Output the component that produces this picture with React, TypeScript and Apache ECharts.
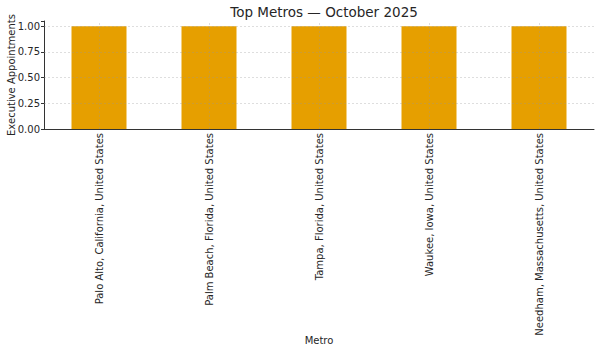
import React, { useEffect, useRef } from "react";
import * as echarts from "echarts";

const metros = [
  "Palo Alto, California, United States",
  "Palm Beach, Florida, United States",
  "Tampa, Florida, United States",
  "Waukee, Iowa, United States",
  "Needham, Massachusetts, United States",
];
const appointments = [1, 1, 1, 1, 1];
const yTicks = [0.25, 0.5, 0.75, 1.0];

const FONT = "DejaVu Sans";

export default function App() {
  const ref = useRef<HTMLDivElement>(null);
  useEffect(() => {
    if (!ref.current) return;
    const chart = echarts.init(ref.current, undefined, { renderer: "svg" });
    const gridStyle = { color: "rgba(150,150,150,0.4)", type: [2, 2] as any, width: 0.8 };
    chart.setOption({
      animation: false,
      backgroundColor: "#ffffff",
      textStyle: { fontFamily: FONT },
      title: {
        text: "Top Metros — October 2025",
        left: 319,
        textAlign: "center",
        top: 0,
        textStyle: { fontFamily: FONT, fontSize: 13.5, fontWeight: "normal", color: "#262626" },
      },
      grid: { left: 44, right: 6, top: 21, bottom: 224, containLabel: false, outerBoundsMode: "none" },
      xAxis: {
        type: "category",
        data: metros,
        boundaryGap: true,
        name: "Metro",
        nameLocation: "middle",
        nameGap: 206,
        nameMoveOverlap: false,
        nameTextStyle: { fontFamily: FONT, fontSize: 10, color: "#262626" },
        axisLine: { lineStyle: { color: "#333333", width: 1 } },
        axisTick: { alignWithLabel: true, length: 3, lineStyle: { color: "#333333" } },
        axisLabel: { rotate: 90, margin: 4, fontFamily: FONT, fontSize: 10, color: "#262626", interval: 0 },
        splitLine: { show: false },
      },
      yAxis: {
        type: "value",
        min: 0,
        max: 1.05,
        interval: 0.25,
        name: "Executive Appointments",
        nameLocation: "middle",
        nameGap: 28,
        nameMoveOverlap: false,
        nameTextStyle: { fontFamily: FONT, fontSize: 10, color: "#262626" },
        axisLine: { show: true, lineStyle: { color: "#333333", width: 1 } },
        axisTick: { show: true, length: 3, lineStyle: { color: "#333333" } },
        axisLabel: {
          fontFamily: FONT,
          fontSize: 10,
          color: "#262626",
          margin: 4,
          formatter: (v: number) => (v > 1.001 ? "" : v.toFixed(2)),
        },
        splitLine: { show: false },
      },
      series: [
        {
          type: "bar",
          data: appointments,
          barWidth: "50%",
          itemStyle: { color: "#E69F00", opacity: 1 },
          markLine: {
            silent: true,
            symbol: "none",
            label: { show: false },
            lineStyle: gridStyle,
            z: 5,
            data: [
              ...yTicks.map((v) => ({ yAxis: v })),
              ...metros.map((m) => ({ xAxis: m })),
            ],
          },
        },
      ],
    });
    return () => chart.dispose();
  }, []);
  return <div ref={ref} style={{ width: 600, height: 353, position: "absolute", left: 0, top: 0 }} />;
}
